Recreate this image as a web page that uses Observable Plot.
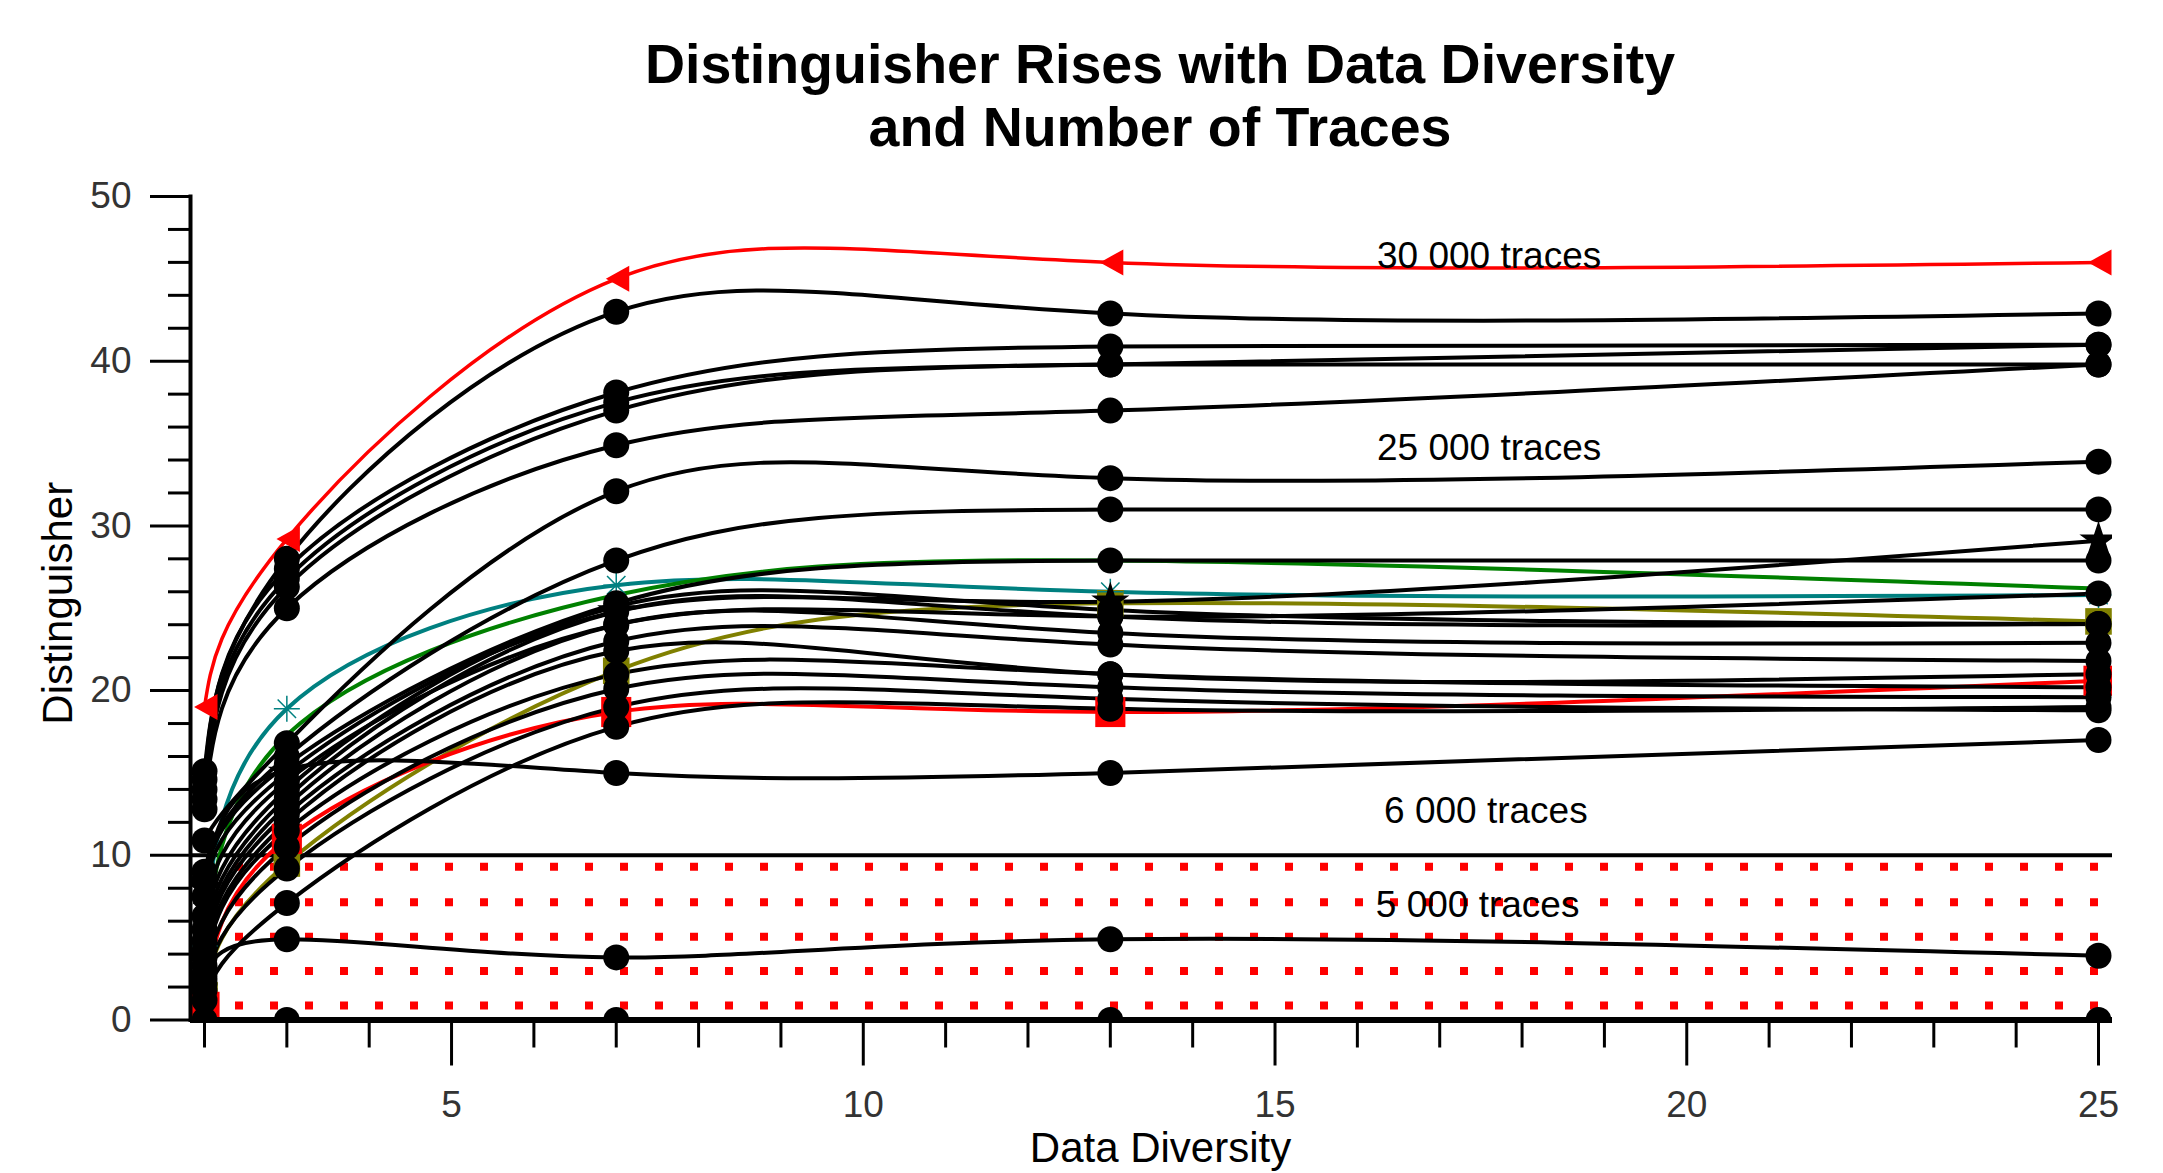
<!DOCTYPE html>
<html><head><meta charset="utf-8">
<script src="https://cdn.jsdelivr.net/npm/d3@7"></script>
<script src="https://cdn.jsdelivr.net/npm/@observablehq/plot@0.6"></script>
<style>
body{margin:0;background:#fff;font-family:"Liberation Sans",Arial,sans-serif;}
#wrap{position:relative;width:2163px;height:1173px;overflow:hidden;}
#title{position:absolute;left:1160px;top:0;transform:translateX(-50%);white-space:nowrap;text-align:center;font-weight:bold;font-size:55.5px;line-height:63px;padding-top:33px;color:#000;}
#chart{position:absolute;left:0;top:175px;}
</style></head><body>
<div id="wrap"><div id="title">Distinguisher Rises with Data Diversity<br>and Number of Traces</div><div id="chart"></div></div>
<script>
// x positions (data diversity) where every curve was measured
const diversity = [2, 3, 7, 13, 25];

// coloured curves
const redTriangle = [19.0, 29.2, 45.0, 46.0, 46.0];
const tealAsterisk = [4.5, 18.9, 26.4, 26.0, 25.8];
const greenCurve  = [3.0, 17.3, 25.8, 27.9, 26.2];
const oliveCurve  = [1.5, 9.5, 21.2, 25.3, 24.2];
const redSquare   = [0.8, 11.0, 18.7, 18.7, 20.6];

// black curves (circle markers)
const blackA = [15.1, 28.0, 43.0, 42.9, 42.9];
const blackB = [14.6, 27.4, 38.1, 40.9, 41.0];
const blackC = [14.0, 26.8, 37.5, 39.8, 41.0];
const blackD = [13.4, 26.3, 37.0, 39.8, 39.8];
const blackE = [12.8, 25.0, 34.9, 37.0, 39.8];
const blackF = [10.9, 16.8, 32.1, 32.9, 33.9];
const blackG = [9.0, 16.0, 27.9, 31.0, 31.0];
const blackH = [8.5, 15.5, 25.3, 27.9, 27.9];
const blackJ = [6.3, 14.5, 24.0, 24.5, 25.9];
const blackM1 = [5.5, 14.0, 25.1, 24.9, 24.05];
const blackM2 = [4.8, 13.5, 24.8, 24.5, 24.05];
const blackM3 = [4.2, 13.0, 24.0, 23.5, 22.9];
const blackM4 = [3.8, 12.5, 23.0, 22.8, 21.8];
const blackM5 = [3.3, 12.0, 22.4, 21.0, 21.0];
const blackM6 = [2.8, 11.5, 21.0, 21.0, 20.2];
const blackM7 = [2.2, 10.5, 20.1, 20.2, 19.6];
const blackM8 = [1.8, 9.2, 19.0, 19.5, 18.8];
const blackP = [1.2, 7.1, 17.8, 18.9, 19.0];
const blackL = [7.5, 15.2, 15.0, 15.0, 17.0];
const blackK = [2.5, 4.9, 3.8, 4.9, 3.9];
const blackZero = [0, 0, 0, 0, 0];
// black curve with star markers
const blackStar = [8.0, 15.0, 24.8, 25.4, 29.1];

// reference levels and labels
const sixThousandLevel = [10];
const dottedBand = [0.88, 2.97, 5.06, 7.15, 9.3];
const traceLabels = ["30 000 traces", "25 000 traces", "6 000 traces", "5 000 traces"];
const traceLabelX = [17.6, 17.6, 17.56, 17.46];
const traceLabelY = [46.4, 34.75, 12.7, 7.0];

const yMajor = [0, 10, 20, 30, 40, 50];
const yMinor = [2,4,6,8,12,14,16,18,22,24,26,28,32,34,36,38,42,44,46,48];
const xMajor = [5, 10, 15, 20, 25];
const xMinor = [2,3,4,6,7,8,9,11,12,13,14,16,17,18,19,21,22,23,24];
const xDomain = [1.83, 25.17];

const blackCurves = {blackA, blackB, blackC, blackD, blackE, blackF, blackG, blackH, blackJ,
  blackM1, blackM2, blackM3, blackM4, blackM5, blackM6, blackM7, blackM8, blackP, blackL, blackK, blackZero};

function rows(name, values) { return values.map((v, i) => ({series: name, x: diversity[i], y: v})); }
const blackRows = Object.entries(blackCurves).flatMap(([k, v]) => rows(k, v));
const starRows = rows("star", blackStar);
const redTriRows = rows("redTri", redTriangle);
const tealRows = rows("teal", tealAsterisk);
const greenRows = rows("green", greenCurve);
const oliveRows = rows("olive", oliveCurve);
const redSqRows = rows("redSq", redSquare);
const labelRows = traceLabels.map((t, i) => ({t, x: traceLabelX[i], y: traceLabelY[i]}));

const triLeft = {draw(ctx, size) { const r = Math.sqrt(size / Math.PI); ctx.moveTo(-0.8 * r, 0); ctx.lineTo(r, -r); ctx.lineTo(r, r); ctx.closePath(); }};
const aster8 = {draw(ctx, size) { const r = Math.sqrt(size / Math.PI); for (let i = 0; i < 4; i++) { const a = i * Math.PI / 4; ctx.moveTo(r * Math.cos(a), r * Math.sin(a)); ctx.lineTo(-r * Math.cos(a), -r * Math.sin(a)); } }};

const lineOpts = (stroke, w) => ({x: "x", y: "y", z: "series", stroke, strokeWidth: w, curve: "natural", clip: true, strokeLinejoin: "round"});

const chart = Plot.plot({
  width: 2163, height: 998,
  marginLeft: 190, marginRight: 51, marginTop: 21, marginBottom: 153.5,
  x: {domain: xDomain},
  y: {domain: [0, 50]},
  style: {fontFamily: "'Liberation Sans', Arial, sans-serif", background: "white", color: "black"},
  marks: [
    Plot.ruleY(dottedBand, {stroke: "red", strokeWidth: 8, strokeDasharray: "8,27", strokeDashoffset: 25}),
    Plot.ruleY(sixThousandLevel, {stroke: "black", strokeWidth: 4}),
    Plot.line(tealRows, lineOpts("teal", 4)),
    Plot.line(greenRows, lineOpts("green", 4)),
    Plot.line(oliveRows, lineOpts("olive", 4)),
    Plot.line(redSqRows, lineOpts("red", 4)),
    Plot.line(blackRows, lineOpts("black", 4)),
    Plot.line(starRows, lineOpts("black", 4)),
    Plot.line(redTriRows, lineOpts("red", 3.5)),
    Plot.dot(oliveRows, {x: "x", y: "y", symbol: "square", r: 15, fill: "olive", clip: true}),
    Plot.dot(redSqRows, {x: "x", y: "y", symbol: "square", r: 17, fill: "red", clip: true}),
    Plot.dot(tealRows, {x: "x", y: "y", symbol: aster8, r: 13, fill: "none", stroke: "teal", strokeWidth: 1.5, clip: true}),
    Plot.dot(starRows, {x: "x", y: "y", symbol: "star", r: 12, fill: "black", clip: true}),
    Plot.dot(blackRows, {x: "x", y: "y", r: 13, fill: "black", clip: true}),
    Plot.dot(redTriRows, {x: "x", y: "y", symbol: triLeft, r: 13, fill: "red", clip: true}),
    Plot.ruleY([0], {stroke: "black", strokeWidth: 6}),
    Plot.frame({anchor: "left", stroke: "black", strokeWidth: 4}),
    Plot.axisY({ticks: yMajor, tickSize: 40, strokeWidth: 3, tickFormat: () => "", label: null}),
    Plot.axisY({ticks: yMinor, tickSize: 22, strokeWidth: 3, tickFormat: () => "", label: null}),
    Plot.axisY({ticks: yMajor, tickSize: 0, tickPadding: 59, fontSize: 37, fill: "#333", label: null}),
    Plot.axisX({ticks: xMajor, tickSize: 46, strokeWidth: 3, tickFormat: () => "", label: null}),
    Plot.axisX({ticks: xMinor, tickSize: 28, strokeWidth: 3, tickFormat: () => "", label: null}),
    Plot.axisX({ticks: xMajor, tickSize: 0, tickPadding: 71, fontSize: 37, fill: "#333", label: null}),
    Plot.text(labelRows, {x: "x", y: "y", text: "t", fontSize: 37, fill: "black"}),
    Plot.text(["Distinguisher"], {frameAnchor: "left", dx: -132, dy: -5, rotate: -90, textAnchor: "middle", lineAnchor: "middle", fontSize: 42, fill: "black"}),
    Plot.text(["Data Diversity"], {frameAnchor: "bottom", dx: 9, dy: 129, textAnchor: "middle", lineAnchor: "middle", fontSize: 42, fill: "black"})
  ]
});
document.getElementById("chart").appendChild(chart);
</script>
</body></html>
